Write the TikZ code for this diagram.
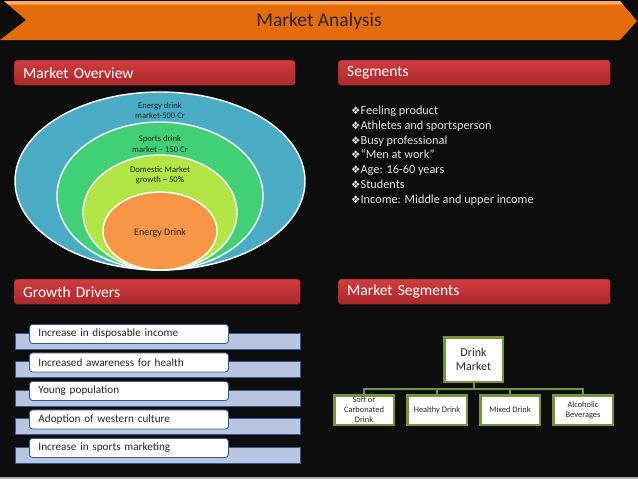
\documentclass[tikz,border=0pt]{standalone}
\usepackage{fontspec}
\setmainfont{Carlito}
\newfontfamily\symfont{DejaVu Sans}
\usetikzlibrary{positioning}
\definecolor{bgblack}{RGB}{13,13,13}
\definecolor{bannerorange}{RGB}{228,108,10}
\definecolor{bannerlight}{RGB}{250,175,95}
\definecolor{headred}{RGB}{208,60,62}
\definecolor{headdark}{RGB}{170,40,44}
\definecolor{ringblue}{RGB}{75,172,198}
\definecolor{ringgreen}{RGB}{66,208,118}
\definecolor{ringlime}{RGB}{178,230,70}
\definecolor{ringorange}{RGB}{247,150,70}
\definecolor{barblue}{RGB}{185,198,225}
\definecolor{barline}{RGB}{55,85,145}
\definecolor{treegreen}{RGB}{119,147,60}

\begin{document}
\begin{tikzpicture}[x=1pt,y=-1pt,
  header/.style={rounded corners=3pt,top color=headred,bottom color=headdark,draw=headdark!80!black,
    line width=0.4pt,anchor=north west,minimum height=25pt,inner xsep=9pt,align=left,
    text=white,font=\fontsize{15.5}{17}\selectfont},
  ring/.style={draw=white,line width=1.4pt},
  ringtext/.style={align=center,text=black!85,font=\fontsize{8.6}{10.2}\selectfont},
  segitem/.style={anchor=base west,inner sep=0pt,text=white!88!black,font=\fontsize{12.3}{14}\selectfont},
  drvbox/.style={anchor=north west,draw=barline,line width=0.9pt,fill=white,rounded corners=3pt,
    minimum width=199pt,minimum height=19pt,text width=181pt,inner xsep=9pt,align=left,
    text=black!85,font=\fontsize{11.2}{12}\selectfont},
  treebox/.style={draw=treegreen,line width=2.5pt,fill=white,align=center,text=black!85},
  treeline/.style={draw=treegreen,line width=2pt}]
% background
\fill[bgblack] (0,0) rectangle (638,479);
\useasboundingbox (0,0) rectangle (638,479);
\fill[gray!65] (0,476.5) rectangle (638,479);
% title banner
\fill[bannerorange] (4,1) -- (620,1) -- (637,21) -- (620,40) -- (0,40) -- (26,20) -- cycle;
\fill[bannerlight] (4,1) -- (620,1) -- (623,4.5) -- (8,4.5) -- cycle;
\node[font=\fontsize{19.5}{22}\selectfont,text=black!85] (title) at (319,21) {Market Analysis};
% section headers
\node[header,minimum width=281pt,text width=263pt] (hOverview) at (14,60) {Market Overview};
\node[header,minimum width=272pt,text width=254pt] (hSegments) at (338,60) {Segments};
\node[header,minimum width=286pt,text width=268pt] (hDrivers) at (14,279) {Growth Drivers};
\node[header,minimum width=272pt,text width=254pt] (hMarket) at (338,279) {Market Segments};
% nested market rings
\draw[ring,fill=ringblue] (160,181) ellipse [x radius=145pt,y radius=89pt];
\draw[ring,fill=ringgreen] (160,196) ellipse [x radius=103pt,y radius=74pt];
\draw[ring,fill=ringlime] (160,212.5) ellipse [x radius=77pt,y radius=57.5pt];
\draw[ring,fill=ringorange] (160,231) ellipse [x radius=57pt,y radius=39pt];
\node[ringtext] (lblTotal) at (160,110.5) {Energy drink\\market-500 Cr};
\node[ringtext] (lblSports) at (160,144) {Sports drink\\market -- 150 Cr};
\node[ringtext] (lblGrowth) at (160,175) {Domestic Market\\growth \textasciitilde{} 50\%};
\node[ringtext,font=\fontsize{10}{11}\selectfont] (lblCore) at (160,233) {Energy Drink};
% segments list
\foreach \t [count=\i] in {Feeling product,Athletes and sportsperson,Busy professional,
  “Men at work”,Age: 16-60 years,Students,Income: Middle and upper income}
  \node[segitem] (seg\i) at (351,114.5+14.8*\i-14.8) {{\symfont\fontsize{10.5}{10}\selectfont ❖}\t};
% growth drivers
\foreach \t [count=\i from 0] in {Increase in disposable income,Increased awareness for health,
  Young population,Adoption of western culture,Increase in sports marketing}{
  \draw[fill=barblue,draw=barline,line width=0.9pt] (15,333+28.5*\i) rectangle ++(285,16);
  \node[drvbox] (drv\i) at (29,324+28.5*\i) {\t};
}
% market segment tree
\node[treebox,minimum width=58.5pt,minimum height=44.5pt,font=\fontsize{12}{14.5}\selectfont] (market) at (473.5,359.5) {Drink\\Market};
\foreach \t [count=\i] in {Soft or\\Carbonated\\Drink,Healthy Drink,Mixed Drink,Alcoholic\\Beverages}{
  \node[treebox,minimum width=59.5pt,minimum height=29.5pt,inner sep=1pt,
    font=\fontsize{8.4}{10}\selectfont] (child\i) at (291+73*\i,410) {\t};
  \draw[treeline] (market.south) -- ++(0,6) -| (child\i.north);
}
\end{tikzpicture}
\end{document}
